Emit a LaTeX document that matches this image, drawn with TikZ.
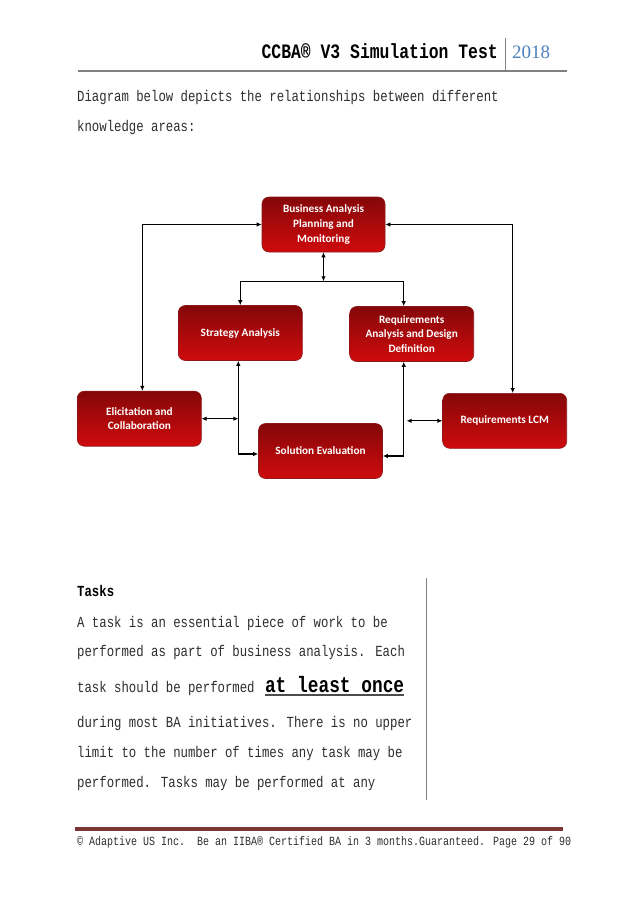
\documentclass[tikz,border=0pt]{standalone}
\usepackage{fontspec}
\usepackage{tikz}
\usetikzlibrary{positioning,arrows.meta,calc}
\newfontfamily\pagefont[FakeStretch=0.8]{Liberation Mono}
\newfontfamily\boxfont{Carlito}
\newfontfamily\yearfont{Liberation Serif}
\definecolor{kadark}{HTML}{850709}
\definecolor{kabright}{HTML}{CF0B0D}
\definecolor{kaedge}{HTML}{8C1A1A}
\definecolor{rulegray}{HTML}{808080}
\definecolor{yearblue}{HTML}{4F81BD}
\definecolor{footred}{HTML}{7A3535}
\definecolor{bodyink}{HTML}{2E2E2E}
\tikzset{
  kabox/.style   ={rounded corners=7pt, draw=kaedge, line width=0.6pt, top color=kadark, bottom color=kabright,
                   text=white, font=\boxfont\bfseries\fontsize{11.25}{14.7}\selectfont, align=center,
                   minimum width=124pt, minimum height=55pt, inner sep=2pt},
  bodyline/.style={anchor=base west, inner sep=0pt, text=bodyink, font=\pagefont\fontsize{15.4}{18}\selectfont},
  arr/.style     ={-{Latex[length=5pt,width=4.5pt]}, line width=1.3pt},
  dblarr/.style  ={{Latex[length=5pt,width=4.5pt]}-{Latex[length=5pt,width=4.5pt]}, line width=1.3pt},
}
\begin{document}
\begin{tikzpicture}[x=1pt, y=-1pt]
\fill[white] (0,0) rectangle (638,903);
\useasboundingbox (0,0) rectangle (638,903);

% header
\node[anchor=base east, inner sep=0pt, font=\pagefont\bfseries\fontsize{20.5}{24}\selectfont] (title) at (498,58) {CCBA® V3 Simulation Test};
\node[anchor=base west, inner sep=0pt, text=yearblue, font=\yearfont\fontsize{19}{22}\selectfont] (year) at (512,58) {2018};
\draw[rulegray, line width=1pt] (505.5,38) -- (505.5,72);
\draw[rulegray, line width=2pt] (78,71) -- (567,71);

\node[bodyline] (intro1) at (77,101) {Diagram below depicts the relationships between different};
\node[bodyline] (intro2) at (77,131) {knowledge areas:};

% knowledge areas
\node[kabox, minimum width=123pt] (bapm) at (323.5,224.5) {Business Analysis\\Planning and\\Monitoring};
\node[kabox] (sa)   at (240.3,333) {Strategy Analysis};
\node[kabox] (radd) at (411.7,334) {Requirements\\Analysis and Design\\Definition};
\node[kabox] (ec)   at (139.3,418.7) {Elicitation and\\Collaboration};
\node[kabox] (se)   at (320.5,451) {Solution Evaluation};
\node[kabox] (lcm)  at (504.7,420.8) {Requirements LCM};

\coordinate (hub)  at ([yshift=-29pt]bapm.south);
\coordinate (sax)  at ([xshift=-2pt]sa.south);
\coordinate (raddx) at ([xshift=-8pt]radd.south);
\coordinate (ecj)  at (sax |- ec.east);
\coordinate (lcmj) at ([xshift=3pt]raddx |- lcm.west);

\draw[dblarr] (bapm.south) -- (hub);
\draw[arr] (hub) -| (sa.north);
\draw[arr] (hub) -| ([xshift=-8pt]radd.north);
\draw[dblarr] (bapm.west) -| ([xshift=3pt]ec.north);
\draw[dblarr] (bapm.east) -| ([xshift=8pt]lcm.north);
\draw[dblarr] (sax) |- ([yshift=-3pt]se.west);
\draw[dblarr] (ec.east) -- (ecj);
\draw[dblarr] (raddx) |- ([yshift=-5pt]se.east);
\draw[dblarr] (lcmj) -- (lcm.west);

% tasks
\node[bodyline, font=\pagefont\bfseries\fontsize{15.4}{18}\selectfont, text=black] (tasks) at (77,596) {Tasks};
\node[bodyline] (t1) at (77,627) {A task is an essential piece of work to be};
\node[bodyline] (t2) at (77,656) {performed as part of business analysis. Each};
\node[bodyline] (t3) at (77,692) {task should be performed};
\node[bodyline, font=\pagefont\bfseries\fontsize{22.3}{26}\selectfont, text=black] (once) at ([xshift=10pt]t3.base east) {at least once};
\draw[black!70, line width=1.6pt] ([yshift=-3pt]once.base west) -- ([yshift=-3pt]once.base east);
\node[bodyline] (t4) at (77,727) {during most BA initiatives. There is no upper};
\node[bodyline] (t5) at (77,757) {limit to the number of times any task may be};
\node[bodyline] (t6) at (77,787) {performed. Tasks may be performed at any};
\draw[rulegray, line width=1pt] (426,578) -- (426,800);

% footer
\draw[footred, line width=3.5pt] (75,829) -- (563,829);
\node[bodyline, font=\pagefont\fontsize{12.5}{15}\selectfont] (foot) at (77,845) {© Adaptive US Inc.~~Be an IIBA® Certified BA in 3 months.Guaranteed. Page 29 of 90};
\end{tikzpicture}
\end{document}
